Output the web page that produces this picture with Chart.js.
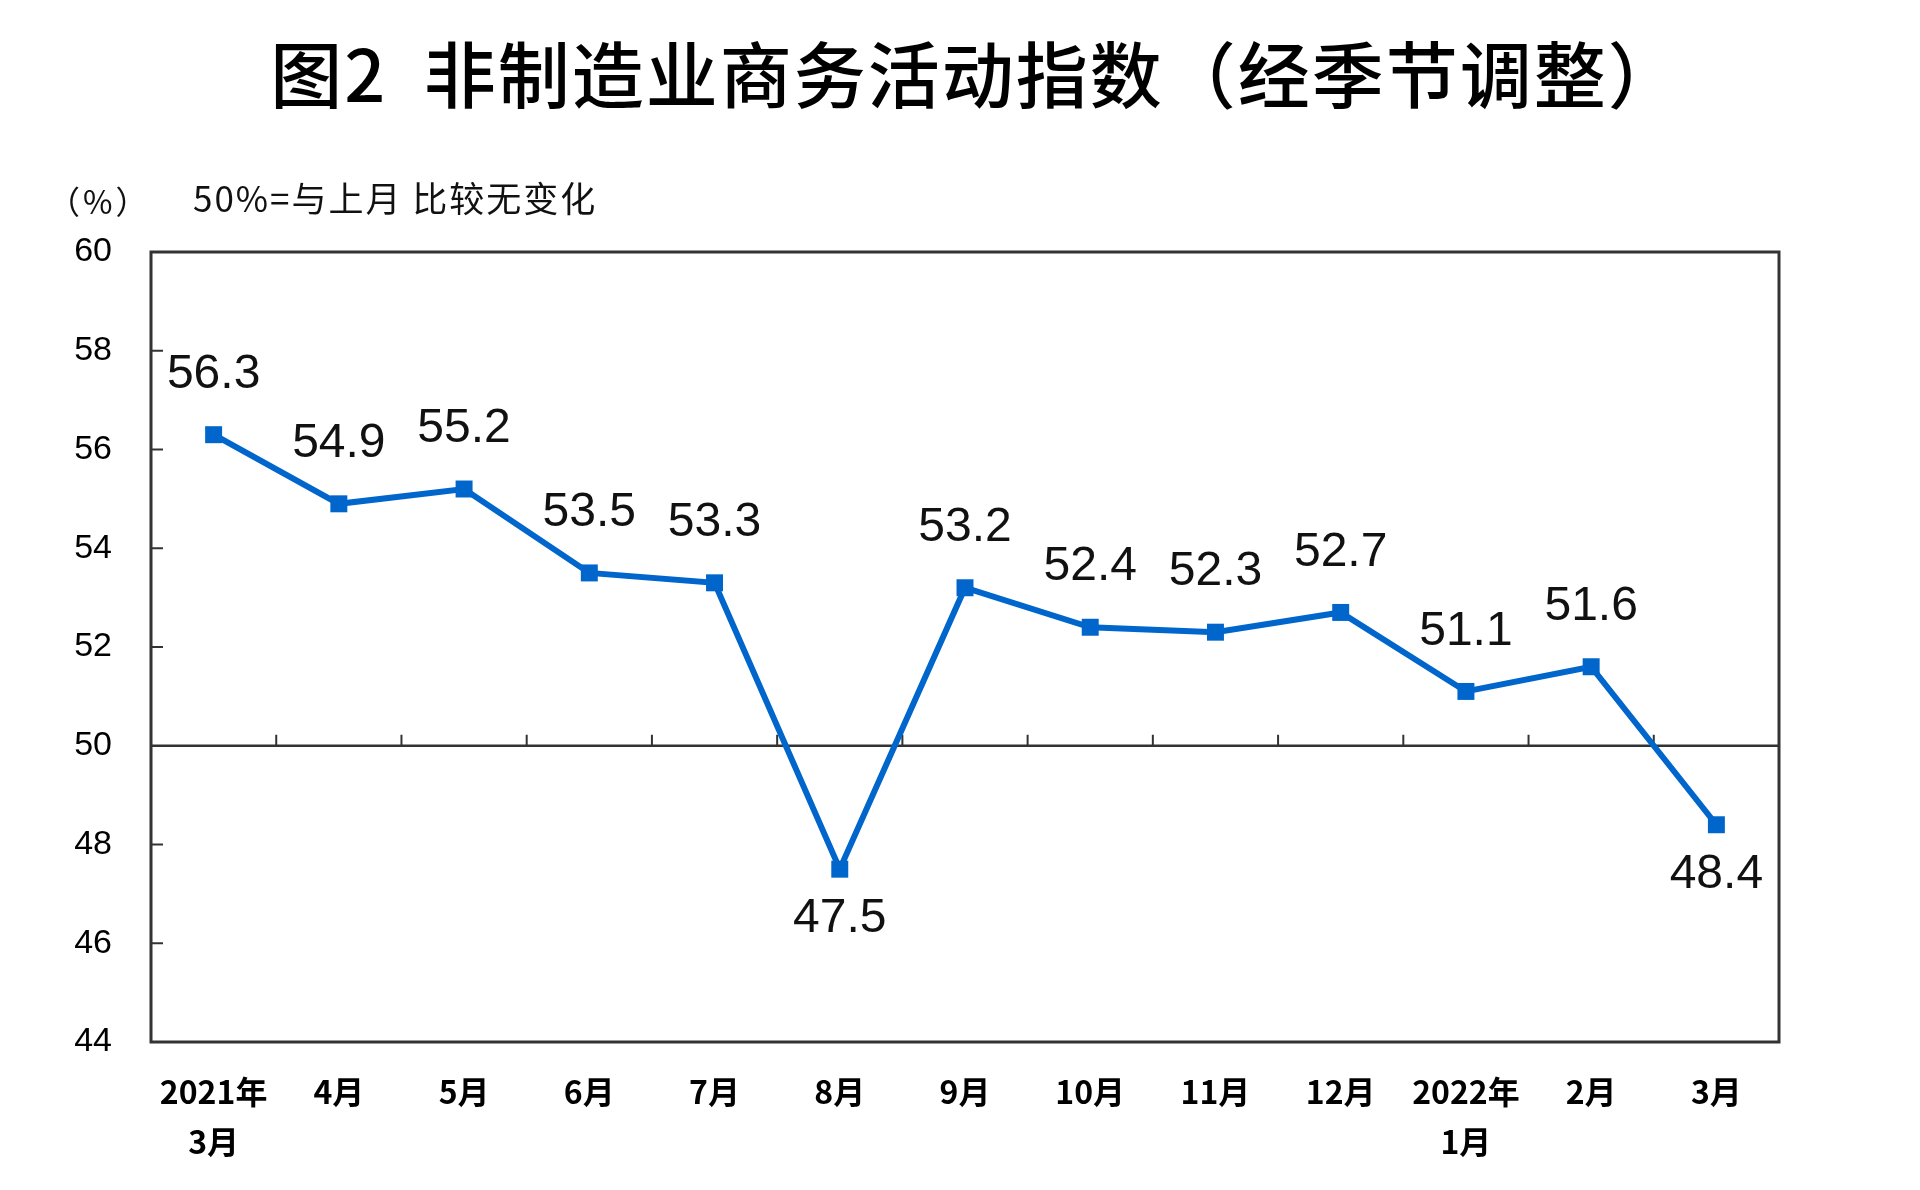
<!DOCTYPE html>
<html><head><meta charset="utf-8">
<script src="https://cdn.jsdelivr.net/npm/chart.js@4/dist/chart.umd.min.js"></script>
<style>html,body{margin:0;padding:0;background:#fff}#wrap{width:1920px;height:1190px;position:relative}</style>
</head><body><div id="wrap"><canvas id="c"></canvas></div>
<script>
const categories = [['2021年','3月'],'4月','5月','6月','7月','8月','9月','10月','11月','12月',['2022年','1月'],'2月','3月'];
const values = [56.3,54.9,55.2,53.5,53.3,47.5,53.2,52.4,52.3,52.7,51.1,51.6,48.4];
const yTicks = [44,46,48,50,52,54,56,58,60];
const titleText = '图2  非制造业商务活动指数（经季节调整）';
const unitText = '（%）';
const noteText = '50%=与上月 比较无变化';
const baseline = 50;

const CJK = '"Noto Sans CJK SC", sans-serif';
const LAT = '"Liberation Sans", Arial, sans-serif';
const BLUE = '#0066cc';

const framePlugin = {
  id: 'frame',
  beforeDatasetsDraw(chart) {
    const {ctx, chartArea: a, scales: {x, y}} = chart;
    ctx.save();
    ctx.strokeStyle = '#333';
    const yb = y.getPixelForValue(baseline);
    ctx.lineWidth = 2.5;
    ctx.beginPath(); ctx.moveTo(a.left, yb); ctx.lineTo(a.right, yb); ctx.stroke();
    ctx.lineWidth = 2;
    for (let i = 1; i < categories.length; i++) {
      const px = (x.getPixelForValue(i - 1) + x.getPixelForValue(i)) / 2;
      ctx.beginPath(); ctx.moveTo(px, yb); ctx.lineTo(px, yb - 11); ctx.stroke();
    }
    yTicks.forEach(v => {
      if (v === y.min || v === y.max || v === baseline) return;
      const py = y.getPixelForValue(v);
      ctx.beginPath(); ctx.moveTo(a.left, py); ctx.lineTo(a.left + 12, py); ctx.stroke();
    });
    ctx.lineWidth = 3;
    ctx.strokeRect(a.left, a.top, a.right - a.left, a.bottom - a.top);
    ctx.restore();
  },
  afterDatasetsDraw(chart) {
    const {ctx} = chart;
    const meta = chart.getDatasetMeta(0);
    ctx.save();
    ctx.font = '48px ' + LAT;
    ctx.fillStyle = '#111';
    ctx.textAlign = 'center';
    ctx.textBaseline = 'middle';
    meta.data.forEach((pt, i) => {
      const below = values[i] < baseline;
      ctx.fillText(values[i].toFixed(1), pt.x, below ? pt.y + 50 : pt.y - 60);
    });
    ctx.restore();
  },
  afterDraw(chart) {
    const {ctx} = chart;
    ctx.save();
    ctx.fillStyle = '#000';
    ctx.textBaseline = 'middle';
    ctx.textAlign = 'center';
    ctx.font = '500 72px ' + CJK;
    if ('letterSpacing' in ctx) ctx.letterSpacing = '2px';
    ctx.fillText(titleText, 976, 75);
    ctx.fillStyle = '#111';
    ctx.textAlign = 'left';
    ctx.font = '32px ' + CJK;
    if ('letterSpacing' in ctx) ctx.letterSpacing = '3px';
    ctx.fillText(unitText, 48, 202);
    ctx.font = '35px ' + CJK;
    if ('letterSpacing' in ctx) ctx.letterSpacing = '2px';
    ctx.fillText(noteText, 193, 199);
    ctx.restore();
  }
};

new Chart(document.getElementById('c'), {
  type: 'line',
  data: {
    labels: categories,
    datasets: [{
      data: values,
      borderColor: BLUE,
      backgroundColor: BLUE,
      borderWidth: 6,
      tension: 0,
      pointStyle: 'rect',
      pointRadius: 12,
      pointBorderWidth: 0,
      pointBackgroundColor: BLUE
    }]
  },
  options: {
    responsive: true,
    maintainAspectRatio: false,
    animation: false,
    devicePixelRatio: 1,
    layout: {padding: {left: 0, right: 141, top: 252, bottom: 0}},
    plugins: {
      legend: {display: false},
      tooltip: {enabled: false},
      title: {display: false}
    },
    scales: {
      x: {
        type: 'category', offset: true,
        grid: {display: false, drawTicks: false},
        border: {display: false},
        ticks: {font: {family: CJK, size: 32, weight: 'bold', lineHeight: 1.56}, color: '#000', padding: 25, maxRotation: 0, autoSkip: false},
        afterFit: s => { s.height = 148; }
      },
      y: {
        min: 44, max: 60,
        grid: {display: false, drawTicks: false},
        border: {display: false},
        ticks: {stepSize: 2, font: {family: LAT, size: 34}, color: '#000', padding: 39},
        afterFit: s => { s.width = 151; }
      }
    }
  },
  plugins: [framePlugin]
});
</script></body></html>
